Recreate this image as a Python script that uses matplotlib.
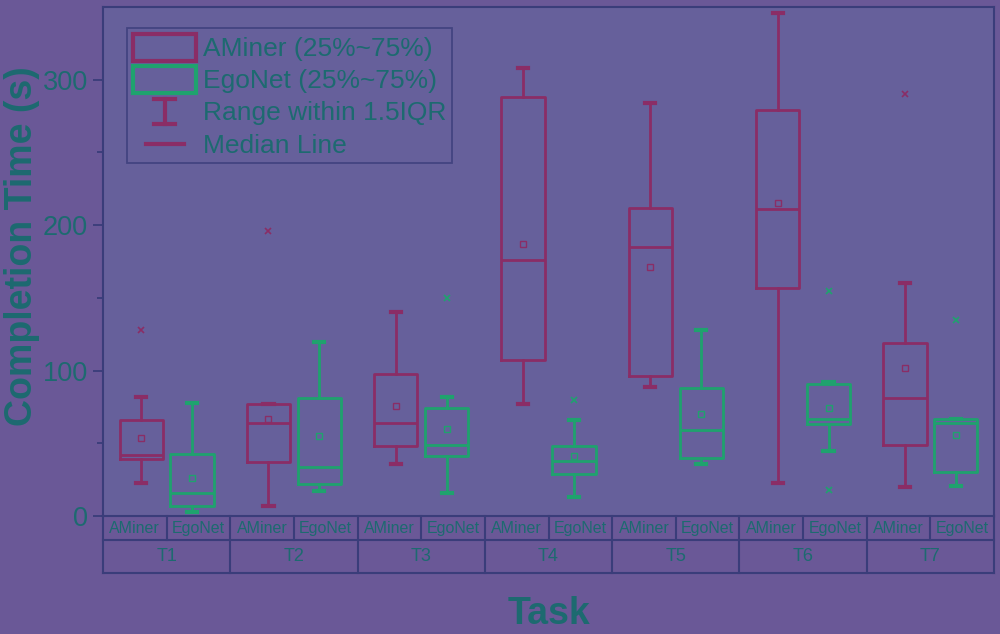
import numpy as np
import matplotlib
matplotlib.use('Agg')
import matplotlib.pyplot as plt
from matplotlib.patches import Patch
from matplotlib.lines import Line2D
from matplotlib.legend_handler import HandlerBase

plt.rcParams['font.family'] = ['Liberation Sans', 'DejaVu Sans']

# --- data ---
tasks = ['T1', 'T2', 'T3', 'T4', 'T5', 'T6', 'T7']
groups = ['AMiner', 'EgoNet']

aminer_q1 = [39, 37, 48, 107, 96, 157, 49]
aminer_med = [42, 64, 64, 176, 185, 211, 81]
aminer_q3 = [66, 77, 98, 288, 212, 279, 119]
aminer_lo = [23, 7, 36, 77, 89, 23, 20]
aminer_hi = [82, 77, 140, 308, 284, 346, 160]
aminer_mean = [54, 67, 76, 187, 171, 215, 102]
aminer_fliers = [[128], [196], [], [], [], [], [290]]

egonet_q1 = [7, 22, 41, 29, 40, 63, 30]
egonet_med = [16, 34, 49, 38, 59, 67, 64]
egonet_q3 = [43, 81, 74, 48, 88, 91, 67]
egonet_lo = [3, 17, 16, 13, 36, 45, 21]
egonet_hi = [78, 120, 82, 66, 128, 92, 67]
egonet_mean = [26, 55, 60, 41, 70, 74, 56]
egonet_fliers = [[], [], [150], [80], [], [18, 155], [135]]

# --- colours ---
BG = '#6a5897'
AX_BG = '#66609b'
AM_COLOR = '#8a2d66'
EGO_COLOR = '#1fa26e'
TEXT_COLOR = '#1d6a70'
LINE_COLOR = '#3a3d7a'


def make_stats(q1, med, q3, lo, hi, mean, fliers):
    out = []
    for i in range(len(q1)):
        out.append(dict(q1=q1[i], med=med[i], q3=q3[i], whislo=lo[i], whishi=hi[i],
                        mean=mean[i], fliers=fliers[i]))
    return out


class WhiskerHandler(HandlerBase):
    def create_artists(self, legend, orig_handle, xdescent, ydescent, width, height, fontsize, trans):
        cx = width / 2 - xdescent
        y0 = -ydescent + 0.05 * height
        y1 = -ydescent + 0.95 * height
        cw = width * 0.16
        arts = [Line2D([cx, cx], [y0, y1]),
                Line2D([cx - cw, cx + cw], [y0, y0]),
                Line2D([cx - cw, cx + cw], [y1, y1])]
        for a in arts:
            a.set_color(orig_handle.get_color())
            a.set_linewidth(3)
            a.set_transform(trans)
        return arts


class MedianHandler(HandlerBase):
    def create_artists(self, legend, orig_handle, xdescent, ydescent, width, height, fontsize, trans):
        y = -ydescent + height / 2
        ln = Line2D([-xdescent + 0.2 * width, -xdescent + 0.8 * width], [y, y])
        ln.set_color(orig_handle.get_color())
        ln.set_linewidth(3)
        ln.set_transform(trans)
        return [ln]


fig = plt.figure(figsize=(10, 6.34), dpi=100, facecolor=BG)
ax = fig.add_axes([0.103, 0.186, 0.891, 0.803])
ax.set_facecolor(AX_BG)

x = np.arange(1, len(tasks) + 1)
off = 0.2
bw = 0.34

for stats, pos, col in [
    (make_stats(aminer_q1, aminer_med, aminer_q3, aminer_lo, aminer_hi, aminer_mean, aminer_fliers), x - off, AM_COLOR),
    (make_stats(egonet_q1, egonet_med, egonet_q3, egonet_lo, egonet_hi, egonet_mean, egonet_fliers), x + off, EGO_COLOR),
]:
    ax.bxp(stats, positions=pos, widths=bw, showmeans=True, capwidths=0.08,
           boxprops=dict(color=col, linewidth=2),
           whiskerprops=dict(color=col, linewidth=2),
           capprops=dict(color=col, linewidth=3),
           medianprops=dict(color=col, linewidth=2),
           meanprops=dict(marker='s', markerfacecolor='none', markeredgecolor=col,
                          markersize=5, markeredgewidth=1),
           flierprops=dict(marker='x', markeredgecolor=col, markersize=5, markeredgewidth=1.2))

ax.set_xlim(0.5, len(tasks) + 0.5)
ax.set_ylim(0, 350)
ax.set_xticks([])
ax.set_yticks([0, 100, 200, 300])
ax.set_yticks([50, 150, 250], minor=True)
ax.tick_params(axis='y', which='major', direction='out', length=7, width=1.3,
               color=LINE_COLOR, labelcolor=TEXT_COLOR, labelsize=19.5, pad=4)
ax.tick_params(axis='y', which='minor', direction='out', length=4, width=1.3, color=LINE_COLOR)
for sp in ax.spines.values():
    sp.set_color(LINE_COLOR)
    sp.set_linewidth(1.5)

# --- category table under the axis ---
tr = ax.get_xaxis_transform()
row1 = -0.047
row2 = -0.112
kw = dict(color=LINE_COLOR, linewidth=1.5, clip_on=False, transform=tr)
ax.plot([0.5, len(tasks) + 0.5], [row1, row1], **kw)
ax.plot([0.5, len(tasks) + 0.5], [row2, row2], **kw)
for b in np.arange(0.5, len(tasks) + 1):
    ax.plot([b, b], [0, row2], **kw)
for xi in x:
    ax.plot([xi, xi], [0, row1], **kw)
    ax.text(xi - 0.25, row1 / 2, groups[0], transform=tr, ha='center', va='center',
            fontsize=11.5, color=TEXT_COLOR)
    ax.text(xi + 0.25, row1 / 2, groups[1], transform=tr, ha='center', va='center',
            fontsize=11.5, color=TEXT_COLOR)
for xi, t in zip(x, tasks):
    ax.text(xi, (row1 + row2) / 2, t, transform=tr, ha='center', va='center',
            fontsize=13, color=TEXT_COLOR)

fig.text(0.5485, 0.031, 'Task', ha='center', va='center', fontsize=27,
         fontweight='bold', color=TEXT_COLOR)
fig.text(0.022, 0.612, 'Completion Time (s)', ha='center', va='center', rotation=90,
         fontsize=27, fontweight='bold', color=TEXT_COLOR)

# --- legend ---
h_am = Patch(facecolor='none', edgecolor=AM_COLOR, linewidth=3)
h_ego = Patch(facecolor='none', edgecolor=EGO_COLOR, linewidth=3)
h_whisk = Line2D([], [], color=AM_COLOR)
h_med = Line2D([], [], color=AM_COLOR)
leg = ax.legend([h_am, h_ego, h_whisk, h_med],
                ['AMiner (25%~75%)', 'EgoNet (25%~75%)', 'Range within 1.5IQR', 'Median Line'],
                handler_map={h_whisk: WhiskerHandler(), h_med: MedianHandler()},
                loc='upper left', bbox_to_anchor=(0.027, 0.959), borderaxespad=0,
                fontsize=19, handlelength=2.4, handleheight=1.2, labelspacing=0.18,
                handletextpad=0.25, borderpad=0.22, fancybox=False,
                edgecolor=LINE_COLOR, labelcolor=TEXT_COLOR)
leg.get_frame().set_linewidth(1.3)
leg.get_frame().set_facecolor('none')

fig.savefig('out.png', dpi=100, facecolor=BG)
